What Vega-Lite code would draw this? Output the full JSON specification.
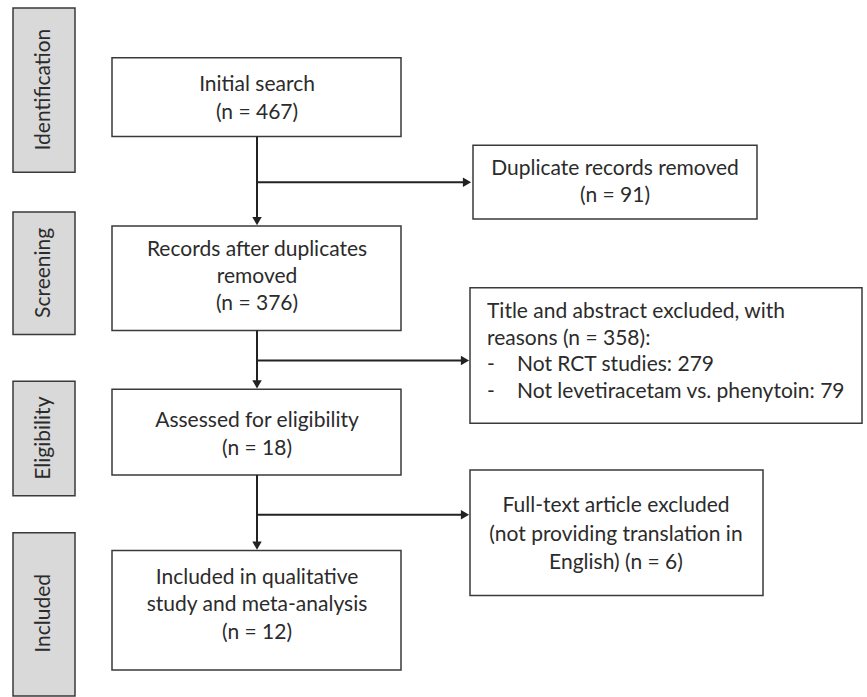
{
  "$schema": "https://vega.github.io/schema/vega-lite/v6.json",
  "autosize": {"type": "fit", "contains": "padding"},
  "width": 867,
  "height": 697,
  "padding": 0,
  "background": "white",
  "config": {"view": {"stroke": null}},
  "datasets": {
    "stages": [
      {"x1": 13, "x2": 75, "y1": 8, "y2": 173, "label": "Identification", "cx": 44, "cy": 90},
      {"x1": 13, "x2": 75, "y1": 213, "y2": 336, "label": "Screening", "cx": 44, "cy": 274},
      {"x1": 13, "x2": 75, "y1": 383, "y2": 498, "label": "Eligibility", "cx": 44, "cy": 440},
      {"x1": 13, "x2": 75, "y1": 535, "y2": 699, "label": "Included", "cx": 44, "cy": 616}
    ],
    "boxes": [
      {"x1": 112, "x2": 401, "y1": 58, "y2": 137},
      {"x1": 473, "x2": 757, "y1": 146, "y2": 220},
      {"x1": 112, "x2": 401, "y1": 227, "y2": 332},
      {"x1": 470, "x2": 862, "y1": 289, "y2": 425},
      {"x1": 112, "x2": 401, "y1": 391, "y2": 477},
      {"x1": 470, "x2": 763, "y1": 472, "y2": 598},
      {"x1": 112, "x2": 401, "y1": 553, "y2": 673}
    ],
    "lines": [
      {"x1": 257, "y1": 137, "x2": 257, "y2": 221},
      {"x1": 257, "y1": 332, "x2": 257, "y2": 385},
      {"x1": 257, "y1": 477, "x2": 257, "y2": 547},
      {"x1": 257, "y1": 183, "x2": 466, "y2": 183},
      {"x1": 257, "y1": 362, "x2": 464, "y2": 362},
      {"x1": 257, "y1": 517, "x2": 464, "y2": 517}
    ],
    "heads": [
      {"x": 257, "y": 222, "shape": "triangle-down"},
      {"x": 257, "y": 386, "shape": "triangle-down"},
      {"x": 257, "y": 548, "shape": "triangle-down"},
      {"x": 467, "y": 183, "shape": "triangle-right"},
      {"x": 465, "y": 362, "shape": "triangle-right"},
      {"x": 465, "y": 517, "shape": "triangle-right"}
    ],
    "ctext": [
      {"x": 257, "y": 85, "t": "Initial search"},
      {"x": 257, "y": 113, "t": "(n = 467)"},
      {"x": 615, "y": 170, "t": "Duplicate records removed"},
      {"x": 615, "y": 197, "t": "(n = 91)"},
      {"x": 257, "y": 251, "t": "Records after duplicates"},
      {"x": 257, "y": 278, "t": "removed"},
      {"x": 257, "y": 305, "t": "(n = 376)"},
      {"x": 257, "y": 423, "t": "Assessed for eligibility"},
      {"x": 257, "y": 451, "t": "(n = 18)"},
      {"x": 616, "y": 508, "t": "Full-text article excluded"},
      {"x": 616, "y": 537, "t": "(not providing translation in"},
      {"x": 616, "y": 565, "t": "English) (n = 6)"},
      {"x": 257, "y": 580, "t": "Included in qualitative"},
      {"x": 257, "y": 608, "t": "study and meta-analysis"},
      {"x": 257, "y": 636, "t": "(n = 12)"}
    ],
    "ltext": [
      {"x": 487, "y": 313, "t": "Title and abstract excluded, with"},
      {"x": 487, "y": 340, "t": "reasons (n = 358):"},
      {"x": 487, "y": 367, "t": "-"},
      {"x": 517, "y": 367, "t": "Not RCT studies: 279"},
      {"x": 487, "y": 394, "t": "-"},
      {"x": 517, "y": 394, "t": "Not levetiracetam vs. phenytoin: 79"}
    ]
  },
  "layer": [
    {
      "data": {"name": "stages"},
      "mark": {"type": "rect", "fill": "#d9d9d9", "stroke": "#3a3a3a", "strokeWidth": 1.5},
      "encoding": {
        "x": {"field": "x1", "type": "quantitative", "scale": {"domain": [0, 867], "nice": false, "zero": false}, "axis": null},
        "x2": {"field": "x2"},
        "y": {"field": "y1", "type": "quantitative", "scale": {"domain": [0, 697], "nice": false, "zero": false, "reverse": true}, "axis": null},
        "y2": {"field": "y2"}
      }
    },
    {
      "data": {"name": "stages"},
      "mark": {"type": "text", "angle": 270, "font": "Lato", "fontSize": 21, "color": "#2b2b2b", "align": "center", "baseline": "middle"},
      "encoding": {
        "x": {"field": "cx", "type": "quantitative"},
        "y": {"field": "cy", "type": "quantitative"},
        "text": {"field": "label"}
      }
    },
    {
      "data": {"name": "boxes"},
      "mark": {"type": "rect", "fill": "white", "stroke": "#3a3a3a", "strokeWidth": 1.5},
      "encoding": {
        "x": {"field": "x1", "type": "quantitative"},
        "x2": {"field": "x2"},
        "y": {"field": "y1", "type": "quantitative"},
        "y2": {"field": "y2"}
      }
    },
    {
      "data": {"name": "lines"},
      "mark": {"type": "rule", "color": "#222222", "strokeWidth": 2},
      "encoding": {
        "x": {"field": "x1", "type": "quantitative"},
        "x2": {"field": "x2"},
        "y": {"field": "y1", "type": "quantitative"},
        "y2": {"field": "y2"}
      }
    },
    {
      "data": {"name": "heads"},
      "mark": {"type": "point", "filled": true, "color": "#222222", "size": 90, "opacity": 1},
      "encoding": {
        "x": {"field": "x", "type": "quantitative"},
        "y": {"field": "y", "type": "quantitative"},
        "shape": {"field": "shape", "type": "nominal", "scale": null}
      }
    },
    {
      "data": {"name": "ctext"},
      "mark": {"type": "text", "font": "Lato", "fontSize": 21, "color": "#2b2b2b", "align": "center", "baseline": "middle"},
      "encoding": {
        "x": {"field": "x", "type": "quantitative"},
        "y": {"field": "y", "type": "quantitative"},
        "text": {"field": "t"}
      }
    },
    {
      "data": {"name": "ltext"},
      "mark": {"type": "text", "font": "Lato", "fontSize": 21, "color": "#2b2b2b", "align": "left", "baseline": "middle"},
      "encoding": {
        "x": {"field": "x", "type": "quantitative"},
        "y": {"field": "y", "type": "quantitative"},
        "text": {"field": "t"}
      }
    }
  ]
}
